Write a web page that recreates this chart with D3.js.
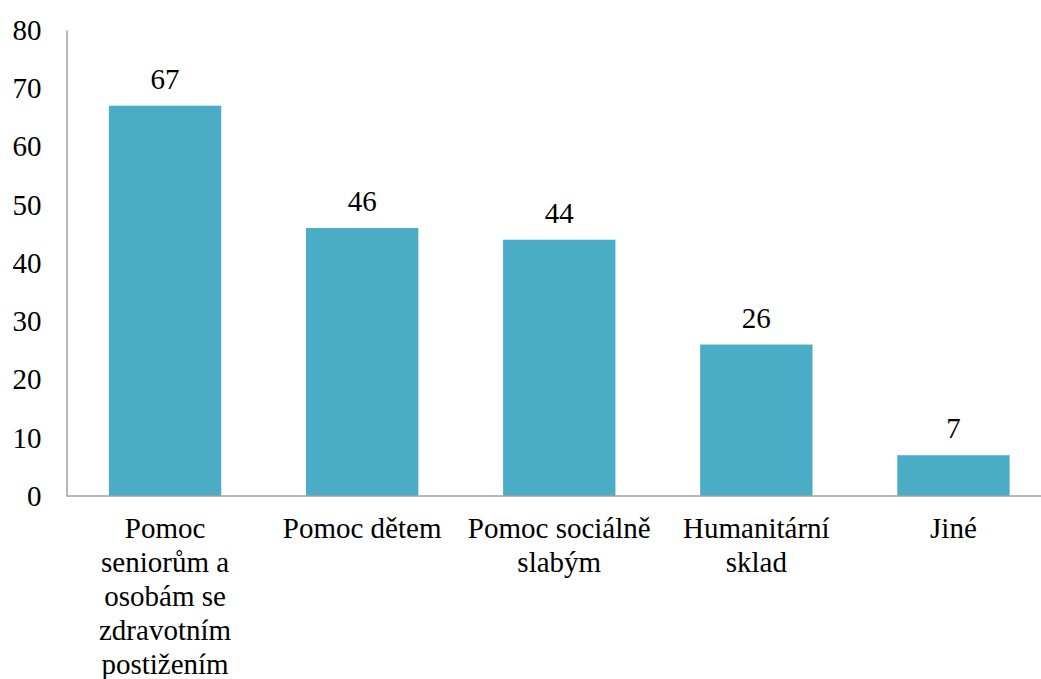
<!DOCTYPE html>
<html>
<head>
<meta charset="utf-8">
<script src="https://cdn.jsdelivr.net/npm/d3@7"></script>
<style>
  html, body { margin: 0; padding: 0; background: #fff; }
  svg { display: block; }
  .lbl { font-family: 'Liberation Serif', monospace !important; font-size: 29px; fill: #000; }
</style>
</head>
<body>
<svg id="chart" width="1041" height="679"></svg>
<script>
// Categories (multi-line labels split by "\n") and counts
const categories = [
  "Pomoc\nseniorům a\nosobám se\nzdravotním\npostižením",
  "Pomoc dětem",
  "Pomoc sociálně\nslabým",
  "Humanitární\nsklad",
  "Jiné"
];
const values = [67, 46, 44, 26, 7];
const yTicks = [0, 10, 20, 30, 40, 50, 60, 70, 80];

const svg = d3.select("#chart");
const plotLeft = 66.5, plotRight = 1052, plotTop = 30, plotBottom = 496;

const x = d3.scaleBand()
  .domain(categories)
  .range([plotLeft, plotRight])
  .paddingInner(0.43)
  .paddingOuter(0.215);

const y = d3.scaleLinear().domain([0, 80]).range([plotBottom, plotTop]);

// Bars
svg.append("g").selectAll("rect")
  .data(values)
  .join("rect")
  .attr("x", (d, i) => x(categories[i]))
  .attr("y", d => y(d))
  .attr("width", x.bandwidth())
  .attr("height", d => y(0) - y(d))
  .attr("fill", "#4bacc6");

// Value labels above bars
svg.append("g").selectAll("text")
  .data(values)
  .join("text")
  .attr("class", "lbl")
  .attr("x", (d, i) => x(categories[i]) + x.bandwidth() / 2)
  .attr("y", d => y(d) - 17)
  .attr("text-anchor", "middle")
  .style("font-family", () => `'Liberation Serif', monospace`)
  .text(d => d);

// Y axis: line only, no tick marks
const yAxis = d3.axisLeft(y).tickValues(yTicks).tickSize(0).tickPadding(25);
const gy = svg.append("g").attr("transform", `translate(${plotLeft},0)`).call(yAxis);
gy.attr("font-family", "Liberation Serif").attr("font-size", 29);
gy.select(".domain").attr("stroke", "#a0a0a0").attr("stroke-width", 1.5);
gy.selectAll(".tick text")
  .attr("class", "lbl")
  .attr("font-family", "Liberation Serif")
  .attr("fill", "#000");

// X axis baseline across the plot
svg.append("line")
  .attr("x1", plotLeft).attr("x2", 1041)
  .attr("y1", y(0)).attr("y2", y(0))
  .attr("stroke", "#a0a0a0").attr("stroke-width", 1.5);

// Category labels (wrapped)
const lab = svg.append("g").selectAll("text")
  .data(categories)
  .join("text")
  .attr("class", "lbl")
  .attr("text-anchor", "middle")
  .attr("x", d => x(d) + x.bandwidth() / 2)
  .attr("y", 538);
lab.each(function(d) {
  const t = d3.select(this);
  const cx = x(d) + x.bandwidth() / 2;
  d.split("\n").forEach((line, i) => {
    t.append("tspan").attr("x", cx).attr("dy", i === 0 ? 0 : 34).text(line);
  });
});
</script>
</body>
</html>
